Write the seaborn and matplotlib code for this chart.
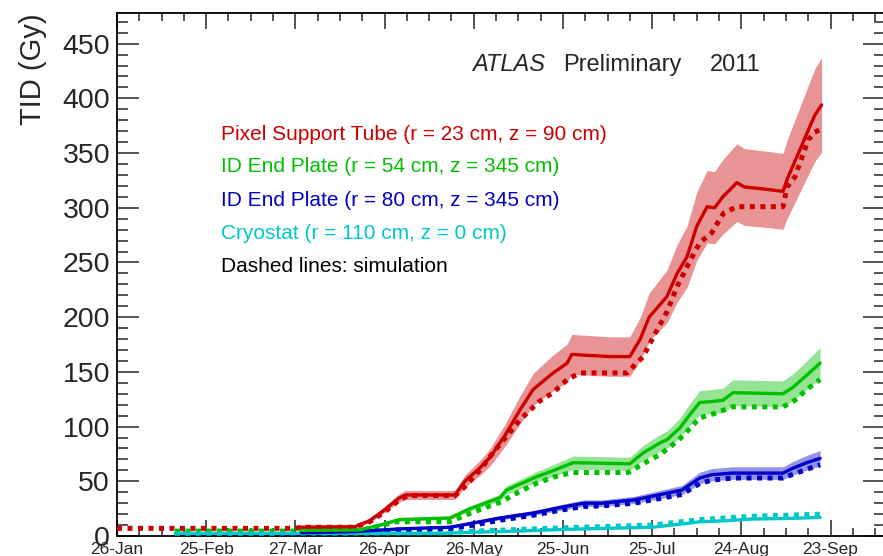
import numpy as np
import pandas as pd
import seaborn as sns
import matplotlib
matplotlib.use("Agg")
import matplotlib.pyplot as plt
from matplotlib.ticker import MultipleLocator, FixedLocator, FixedFormatter

# ---------------- data (days since 26-Jan-2011, dose in Gy) ----------------
tick_days = [0, 30, 60, 90, 120, 150, 180, 210, 240]
tick_labels = ["26-Jan", "25-Feb", "27-Mar", "26-Apr", "26-May",
               "25-Jun", "25-Jul", "24-Aug", "23-Sep"]

# Pixel Support Tube (r = 23 cm, z = 90 cm)
red_days = [61.6, 80, 85, 90, 94.5, 97, 113.7, 117, 122, 125.5, 130.5, 135.5,
            140, 144, 146.7, 151.4, 153, 159, 166, 172.5, 176, 179, 185, 188.4,
            191.7, 195, 198.5, 201, 203.8, 208.5, 211, 218, 224, 225.4, 229.7,
            233, 234.8, 237]
red_meas = [8, 8.5, 14, 24, 34, 37.5, 37.5, 50, 62, 72, 92, 115,
            134, 143, 149, 158, 166, 165, 164, 164, 180, 200, 219, 240,
            255, 283, 301, 300, 310, 323, 319, 317, 315, 326, 353,
            374, 385, 394]
red_sim_days = [0, 60, 62, 80, 85, 90, 95, 98, 113.7, 117, 122, 126.5, 131,
                135.5, 142, 146.7, 151.4, 155.7, 171.5, 177, 181, 185, 188.4,
                191.7, 196, 200, 204, 208.5, 224, 225.4, 228, 230.5, 232.5,
                234.6, 237]
red_sim = [7, 7, 8, 8, 13, 22, 33, 37, 37, 45, 60, 76, 91,
           106, 123, 131, 143, 149, 149, 164, 185, 205, 228,
           246, 268, 277, 295, 301, 301, 319, 328, 347, 362,
           369, 372]
red_err = 0.11

# ID End Plate (r = 54 cm, z = 345 cm)
green_days = [61.6, 81.7, 88.5, 95, 112, 118.7, 128.8, 131, 141, 147, 153.4,
              172.5, 177, 182.6, 185, 189.4, 192.7, 196, 200.5, 203.8, 207.2,
              224, 227.4, 232, 236.5]
green_meas = [5, 5.5, 10, 15, 16.5, 25, 35, 42, 54, 60, 67,
              66, 76, 85, 88, 99, 111, 122, 123, 124, 131,
              130, 136, 147, 158]
green_sim_days = [19.5, 62, 82, 88, 94, 112, 119, 129, 135, 141, 147, 153,
                  172, 177, 183, 189, 193, 196, 201, 207, 224, 228, 232, 236.5]
green_sim = [4.5, 4.5, 5, 9, 13, 13, 21, 31, 40, 48, 54, 58,
             58, 66, 75, 88, 99, 108, 112, 118, 118, 124, 134, 143]
green_err = 0.09

# ID End Plate (r = 80 cm, z = 345 cm)
blue_days = [62, 80, 95, 112, 120, 128.8, 140, 150, 157, 163, 174, 182, 190,
             196, 200, 207, 224, 227.4, 232, 236.5]
blue_meas = [3, 4, 6.5, 8, 12, 16.5, 21, 26.5, 30, 30, 33, 37.5, 42,
             53, 56, 57.5, 57.5, 62, 67, 71]
blue_sim_days = [55, 62, 80, 95, 112, 120, 129, 140, 150, 157, 163, 174, 182,
                 190, 196, 200, 207, 224, 228, 232, 236.5]
blue_sim = [2.5, 2.8, 3.5, 5.5, 7, 10, 14.5, 19, 24, 27, 27.5, 30, 34,
            38, 48, 51, 53, 53, 57, 61, 65]
blue_err = 0.10

# Cryostat (r = 110 cm, z = 0 cm)
cyan_days = [19.5, 62, 110, 120, 135, 150, 165, 180, 190, 196, 205, 213, 225, 236.5]
cyan_meas = [2.5, 2.5, 2.5, 3.5, 4.5, 6, 7, 8, 11, 13, 14, 15.5, 16, 17]
cyan_sim_days = [19.5, 62, 110, 120, 150, 180, 196, 213, 236.5]
cyan_sim = [2.5, 2.5, 3, 4.5, 7.5, 10, 15, 18, 20]

legend_texts = ["Pixel Support Tube (r = 23 cm, z = 90 cm)",
                "ID End Plate (r = 54 cm, z = 345 cm)",
                "ID End Plate (r = 80 cm, z = 345 cm)",
                "Cryostat (r = 110 cm, z = 0 cm)",
                "Dashed lines: simulation"]

# ---------------- style ----------------
sns.set_style("white")
plt.rcParams["font.family"] = ["Liberation Sans", "DejaVu Sans"]

RED, GREEN, BLUE, CYAN = "#cc0000", "#00c000", "#0000c8", "#00c8c8"

fig = plt.figure(figsize=(8.83, 5.56), dpi=100)
W, H = 883, 556
ax = fig.add_axes([117 / W, (H - 536) / H, (885 - 117) / W, (536 - 13) / H])

series = [
    (red_days, red_meas, red_sim_days, red_sim, red_err, RED),
    (green_days, green_meas, green_sim_days, green_sim, green_err, GREEN),
    (blue_days, blue_meas, blue_sim_days, blue_sim, blue_err, BLUE),
    (cyan_days, cyan_meas, cyan_sim_days, cyan_sim, 0.04, CYAN),
]

# cyan first so the larger doses are drawn on top
for d, m, sd, s, err, col in reversed(series):
    d = np.asarray(d); m = np.asarray(m)
    ax.fill_between(d, m * (1 - err), m * (1 + err), color=col, alpha=0.42,
                    linewidth=0, zorder=1)
for d, m, sd, s, err, col in reversed(series):
    sns.lineplot(x=sd, y=s, ax=ax, color=col, linewidth=3.6,
                 linestyle=(0, (1.0, 1.1)), errorbar=None, zorder=3)
    sns.lineplot(x=d, y=m, ax=ax, color=col, linewidth=2.4,
                 errorbar=None, zorder=4)

ax.set_xlim(0, (885 - 117) / 2.973)
ax.set_ylim(0, 478)

# ticks, ROOT-like (inward, on all sides)
ax.xaxis.set_major_locator(FixedLocator(tick_days))
ax.xaxis.set_major_formatter(FixedFormatter(tick_labels))
ax.xaxis.set_minor_locator(MultipleLocator(7.5))
ax.yaxis.set_major_locator(MultipleLocator(50))
ax.yaxis.set_minor_locator(MultipleLocator(10))
ax.tick_params(axis="x", which="major", direction="in", length=11.5, width=1.1,
               top=True, bottom=True, labelsize=12.5, pad=4)
ax.tick_params(axis="x", which="minor", direction="in", length=5.5, width=1.1,
               top=True, bottom=True)
ax.tick_params(axis="y", which="major", direction="in", length=16, width=1.1,
               left=True, right=True, labelsize=20.5, pad=5)
ax.tick_params(axis="y", which="minor", direction="in", length=8, width=1.1,
               left=True, right=True)
for sp in ax.spines.values():
    sp.set_linewidth(1.3)
    sp.set_color("black")

ax.set_xlabel("")
ax.set_ylabel("TID (Gy)", fontsize=21, loc="top", labelpad=11)

# texts
fig.text(472 / W, 1 - 65 / H, "ATLAS", fontsize=17, style="italic",
         va="center", ha="left")
fig.text(563 / W, 1 - 65 / H, "Preliminary", fontsize=17,
         va="center", ha="left")
fig.text(710 / W, 1 - 65 / H, "2011", fontsize=17,
         va="center", ha="left")
ys = [135, 167, 200, 233, 266]
cols = [RED, GREEN, BLUE, CYAN, "black"]
for t, yy, c in zip(legend_texts, ys, cols):
    fig.text(221 / W, 1 - yy / H, t, fontsize=15, color=c,
             va="center", ha="left")

fig.savefig("out.png", dpi=100)
